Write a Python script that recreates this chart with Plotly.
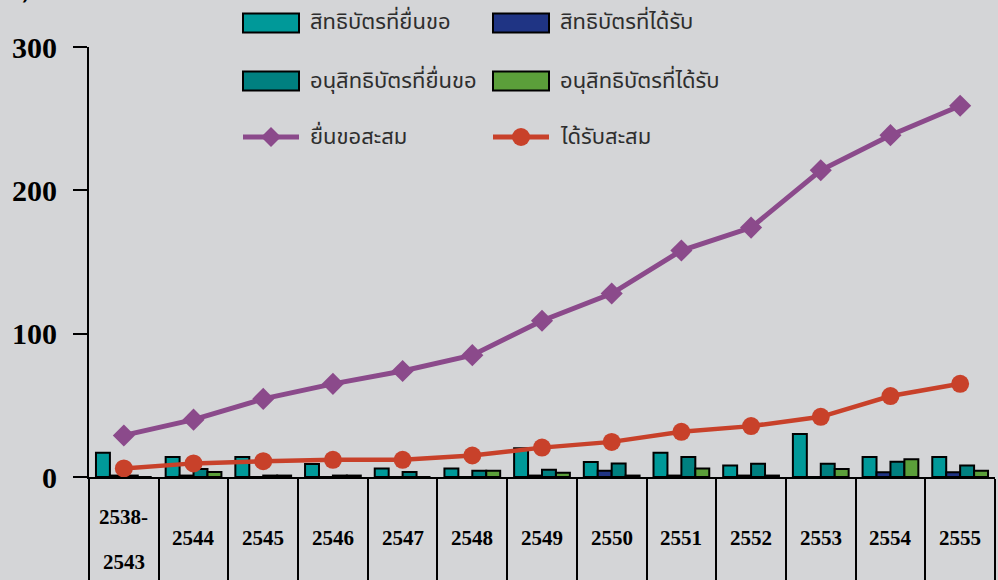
import plotly.graph_objects as go

categories = ["2538-2543", "2544", "2545", "2546", "2547", "2548", "2549",
              "2550", "2551", "2552", "2553", "2554", "2555"]
patent_filed = [17, 14, 14, 9, 6, 6, 20, 10.5, 17, 8, 30, 14, 14]
patent_granted = [1, 1, 0, 0, 0, 0, 1, 4.4, 1, 1, 0, 3.3, 3.3]
petty_filed = [1, 5.5, 1, 1, 3.5, 4.4, 5, 9.5, 14, 9.3, 9.3, 10.7, 8]
petty_granted = [0, 3.5, 1, 1, 0, 4.4, 3, 1, 6, 1, 5.6, 12.3, 4.4]
cum_filed = [29, 40, 54.5, 65, 74, 85, 109, 128, 158, 174, 214, 238.5, 259]
cum_granted = [6, 9.5, 11, 12, 12, 15, 20.5, 24.5, 31.5, 35.5, 42, 56.5, 65]
y_ticks = [0, 100, 200, 300]

names = ["สิทธิบัตรที่ยื่นขอ", "สิทธิบัตรที่ได้รับ", "อนุสิทธิบัตรที่ยื่นขอ",
         "อนุสิทธิบัตรที่ได้รับ", "ยื่นขอสะสม", "ได้รับสะสม"]

C_FILED = "#009999"
C_GRANT = "#1F3484"
C_PFILED = "#008080"
C_PGRANT = "#5B9F3A"
C_CUMF = "#8B4A8B"
C_CUMG = "#C8412A"
BG = "#D4D5D7"
THAI = "Noto Sans Thai, Noto Sans Thai Looped, Garuda, Loma, Tlwg Typo, sans-serif"
SERIF = "Liberation Serif, Times New Roman, serif"

fig = go.Figure()
bar_series = [(patent_filed, C_FILED), (patent_granted, C_GRANT),
              (petty_filed, C_PFILED), (petty_granted, C_PGRANT)]
for (vals, col), nm in zip(bar_series, names[:4]):
    fig.add_trace(go.Bar(x=categories, y=vals, name=nm, marker_color=col,
                         marker_line=dict(color="black", width=2)))

fig.add_trace(go.Scatter(x=categories, y=cum_filed, name=names[4], mode="lines+markers",
                         line=dict(color=C_CUMF, width=5),
                         marker=dict(symbol="diamond", size=17, color=C_CUMF)))
fig.add_trace(go.Scatter(x=categories, y=cum_granted, name=names[5], mode="lines+markers",
                         line=dict(color=C_CUMG, width=4.5),
                         marker=dict(symbol="circle", size=18, color=C_CUMG)))

W, H = 998, 580
ML, MR, MT, MB = 89, 3, 47, 103
PW, PH = W - ML - MR, H - MT - MB

def px_x(p):
    return (p - ML) / PW

def px_y(p):
    return (H - MB - p) / PH

shapes = []
annotations = []
# manual legend: 3 rows x 2 columns
col_x = [243, 493]
row_y = [23, 81, 137]
styles = [("bar", C_FILED), ("bar", C_GRANT), ("bar", C_PFILED), ("bar", C_PGRANT),
          ("line-diamond", C_CUMF), ("line-circle", C_CUMG)]
for i, (nm, (kind, col)) in enumerate(zip(names, styles)):
    r, c = divmod(i, 2)
    x0 = col_x[c]
    x1 = x0 + 56
    yc = row_y[r]
    if kind == "bar":
        shapes.append(dict(type="rect", xref="paper", yref="paper",
                           x0=px_x(x0), x1=px_x(x1), y0=px_y(yc - 9.5), y1=px_y(yc + 9.5),
                           fillcolor=col, line=dict(color="black", width=2)))
    else:
        shapes.append(dict(type="line", xref="paper", yref="paper",
                           x0=px_x(x0), x1=px_x(x1), y0=px_y(yc), y1=px_y(yc),
                           line=dict(color=col, width=5)))
        xm = (x0 + x1) / 2
        if kind == "line-diamond":
            d = 10
            path = "M {} {} L {} {} L {} {} L {} {} Z".format(
                px_x(xm - d), px_y(yc), px_x(xm), px_y(yc - d),
                px_x(xm + d), px_y(yc), px_x(xm), px_y(yc + d))
            shapes.append(dict(type="path", xref="paper", yref="paper", path=path,
                               fillcolor=col, line=dict(color=col, width=0)))
        else:
            rr = 9
            shapes.append(dict(type="circle", xref="paper", yref="paper",
                               x0=px_x(xm - rr), x1=px_x(xm + rr),
                               y0=px_y(yc + rr), y1=px_y(yc - rr),
                               fillcolor=col, line=dict(color=col, width=0)))
    annotations.append(dict(text=nm, xref="paper", yref="paper", x=px_x(x1 + 9),
                            y=px_y(yc), xanchor="left", yanchor="middle", showarrow=False,
                            font=dict(family=THAI, size=22, color="#2E2E2E")))

# category labels in table cells (positioned by category index)
LBL = dict(family=SERIF, size=21, color="black", weight="bold")
for idx, cat in enumerate(categories):
    if "-" in cat:
        a, b = cat.split("-")
        annotations.append(dict(text=a + "-", x=idx, xref="x", yref="paper", y=px_y(517),
                                showarrow=False, yanchor="middle", font=LBL))
        annotations.append(dict(text=b, x=idx, xref="x", yref="paper", y=px_y(562),
                                showarrow=False, yanchor="middle", font=LBL))
    else:
        annotations.append(dict(text=cat, x=idx, xref="x", yref="paper", y=px_y(538),
                                showarrow=False, yanchor="middle", font=LBL))

# partially visible unit label at top-left
annotations.append(dict(text="(ฉบับ)", xref="paper", yref="paper", x=px_x(32), y=px_y(12),
                        xanchor="right", yanchor="bottom", showarrow=False,
                        font=dict(family=THAI, size=26, color="black")))

fig.update_layout(
    width=W, height=H,
    margin=dict(l=ML, r=MR, t=MT, b=MB, pad=0, autoexpand=False),
    paper_bgcolor=BG, plot_bgcolor=BG,
    barmode="group", bargap=0.2, bargroupgap=0,
    showlegend=False,
    shapes=shapes, annotations=annotations,
    xaxis=dict(type="category", range=[-0.5, len(categories) - 0.5], autorange=False,
               automargin=False,
               showline=True, linecolor="black", linewidth=2,
               ticks="outside", tickson="boundaries", ticklen=110, tickwidth=2,
               tickcolor="black", showticklabels=False, showgrid=False, zeroline=False),
    yaxis=dict(range=[0, 300], autorange=False, automargin=False, tickvals=y_ticks,
               showline=True, linecolor="black", linewidth=2, ticks="outside",
               ticklen=14, tickwidth=2, tickcolor="black", showgrid=False, zeroline=False,
               ticklabelstandoff=10,
               tickfont=dict(family=SERIF, size=30, color="black", weight="bold")),
)

fig.write_html("out.html", config={"displayModeBar": False},
               post_script="document.body.style.margin='0';document.body.style.overflow='hidden';")
